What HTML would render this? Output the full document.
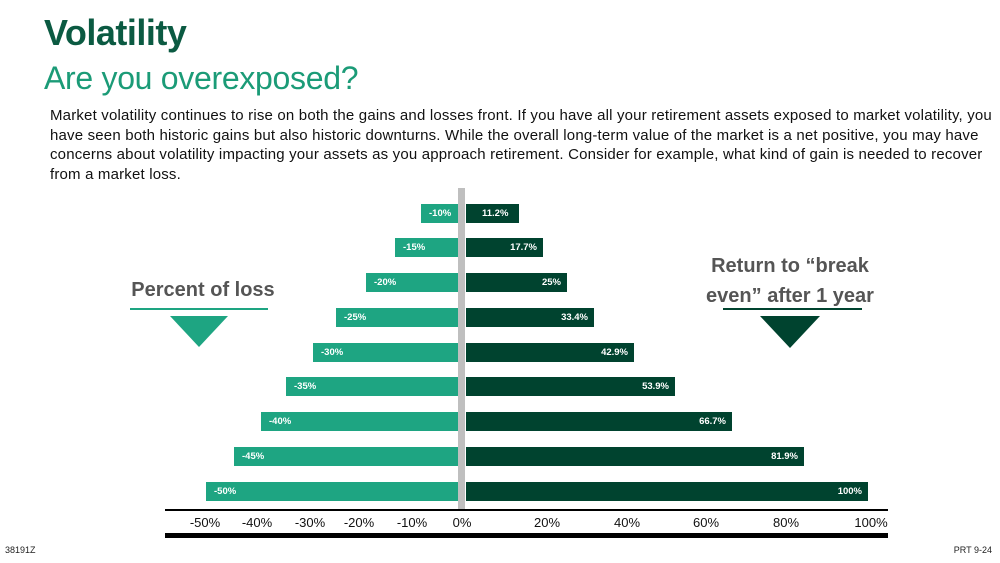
<!DOCTYPE html>
<html><head><style>
body{margin:0;width:1000px;height:563px;background:#fff;position:relative;overflow:hidden;font-family:"Liberation Sans",sans-serif}
.a{position:absolute}
.bl{position:absolute;height:19px;background:#1ea582;color:#fff;font-size:9.5px;font-weight:bold;line-height:19px;padding-left:8px;box-sizing:border-box}
.br{position:absolute;height:19px;background:#00432f;color:#fff;font-size:9.5px;font-weight:bold;line-height:19px;text-align:right;padding-right:6px;box-sizing:border-box}
.t{position:absolute;top:515px;font-size:13px;width:60px;margin-left:-30px;text-align:center;color:#111}
</style></head><body>
<div class="a" style="left:44px;top:12px;font-size:36px;font-weight:bold;color:#0b5a42;letter-spacing:-0.5px">Volatility</div>
<div class="a" style="left:44px;top:60px;font-size:32px;color:#1b9b77;letter-spacing:-0.3px">Are you overexposed?</div>
<div class="a" style="left:50px;top:106px;white-space:nowrap;font-size:15px;line-height:19.5px;color:#111;letter-spacing:0.18px">Market volatility continues to rise on both the gains and losses front. If you have all your retirement assets exposed to market volatility, you<br>have seen both historic gains but also historic downturns. While the overall long-term value of the market is a net positive, you may have<br>concerns about volatility impacting your assets as you approach retirement. Consider for example, what kind of gain is needed to recover<br>from a market loss.</div>

<div class="a" style="left:458px;top:188px;width:7px;height:322px;background:#bfbfbf"></div>

<div class="bl" style="left:421px;width:37px;top:204px">-10%</div>
<div class="bl" style="left:395px;width:63px;top:238px">-15%</div>
<div class="bl" style="left:366px;width:92px;top:273px">-20%</div>
<div class="bl" style="left:336px;width:122px;top:308px">-25%</div>
<div class="bl" style="left:313px;width:145px;top:343px">-30%</div>
<div class="bl" style="left:286px;width:172px;top:377px">-35%</div>
<div class="bl" style="left:261px;width:197px;top:412px">-40%</div>
<div class="bl" style="left:234px;width:224px;top:447px">-45%</div>
<div class="bl" style="left:206px;width:252px;top:482px">-50%</div>

<div class="br" style="left:466px;width:53px;top:204px;text-align:left;padding-left:16px">11.2%</div>
<div class="br" style="left:466px;width:77px;top:238px">17.7%</div>
<div class="br" style="left:466px;width:101px;top:273px">25%</div>
<div class="br" style="left:466px;width:128px;top:308px">33.4%</div>
<div class="br" style="left:466px;width:168px;top:343px">42.9%</div>
<div class="br" style="left:466px;width:209px;top:377px">53.9%</div>
<div class="br" style="left:466px;width:266px;top:412px">66.7%</div>
<div class="br" style="left:466px;width:338px;top:447px">81.9%</div>
<div class="br" style="left:466px;width:402px;top:482px">100%</div>

<div class="a" style="left:165px;top:509px;width:723px;height:2px;background:#000"></div>
<div class="a" style="left:165px;top:533px;width:723px;height:5px;background:#000"></div>
<div class="t" style="left:205px">-50%</div><div class="t" style="left:257px">-40%</div><div class="t" style="left:310px">-30%</div><div class="t" style="left:359px">-20%</div><div class="t" style="left:412px">-10%</div><div class="t" style="left:462px">0%</div><div class="t" style="left:547px">20%</div><div class="t" style="left:627px">40%</div><div class="t" style="left:706px">60%</div><div class="t" style="left:786px">80%</div><div class="t" style="left:871px">100%</div>

<div class="a" style="left:103px;top:279px;width:200px;text-align:center;font-size:20px;font-weight:bold;color:#555">Percent of loss</div>
<div class="a" style="left:130px;top:308px;width:138px;height:2px;background:#1ea582"></div>
<div class="a" style="left:170px;top:316px;width:0;height:0;border-left:29px solid transparent;border-right:29px solid transparent;border-top:31px solid #1ea582"></div>

<div class="a" style="left:660px;top:251px;width:260px;text-align:center;font-size:20px;font-weight:bold;color:#555;line-height:30px">Return to “break<br>even” after 1 year</div>
<div class="a" style="left:723px;top:308px;width:139px;height:2px;background:#00432f"></div>
<div class="a" style="left:760px;top:316px;width:0;height:0;border-left:30px solid transparent;border-right:30px solid transparent;border-top:32px solid #00432f"></div>

<div class="a" style="left:5px;top:545px;font-size:9px;color:#222">38191Z</div>
<div class="a" style="right:8px;top:545px;font-size:9px;color:#222">PRT 9-24</div>
</body></html>
